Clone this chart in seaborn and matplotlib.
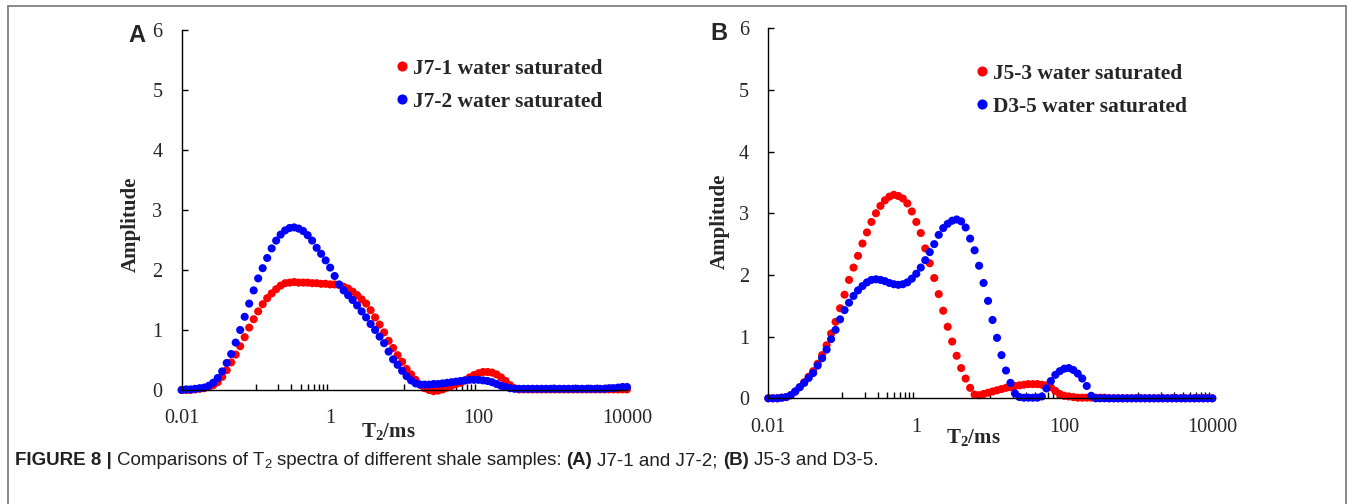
import numpy as np
import pandas as pd
import matplotlib
matplotlib.use("Agg")
import matplotlib.pyplot as plt
import seaborn as sns
from matplotlib.ticker import FixedLocator, NullFormatter
from matplotlib.lines import Line2D

sns.set_style("white")
plt.rcParams["font.family"] = ["Liberation Serif", "DejaVu Serif"]
plt.rcParams["mathtext.fontset"] = "custom"
plt.rcParams["mathtext.rm"] = "Liberation Serif"
plt.rcParams["mathtext.bf"] = "Liberation Serif:bold"
plt.rcParams["mathtext.it"] = "Liberation Serif:italic"

# ---- data (T2 grid of the NMR inversion, 100 points from 0.01 to 10000 ms) ----
T2 = np.logspace(-2, 4, 100)

J7_1 = [0.00, 0.00, 0.00, 0.01, 0.02, 0.03, 0.05, 0.08, 0.13, 0.22,
        0.33, 0.46, 0.59, 0.73, 0.88, 1.04, 1.18, 1.31, 1.43, 1.53,
        1.61, 1.68, 1.74, 1.78, 1.79, 1.80, 1.79, 1.79, 1.79, 1.78,
        1.78, 1.77, 1.77, 1.76, 1.76, 1.75, 1.72, 1.69, 1.64, 1.58,
        1.51, 1.44, 1.33, 1.21, 1.09, 0.96, 0.82, 0.70, 0.58, 0.47,
        0.35, 0.26, 0.17, 0.09, 0.03, 0.00, -0.02, -0.01, 0.01, 0.04,
        0.07, 0.10, 0.12, 0.16, 0.21, 0.25, 0.28, 0.30, 0.30, 0.29,
        0.26, 0.21, 0.15, 0.08, 0.03, 0.01, 0.01, 0.01, 0.01, 0.01,
        0.01, 0.01, 0.01, 0.01, 0.01, 0.01, 0.01, 0.01, 0.01, 0.01,
        0.01, 0.01, 0.01, 0.01, 0.01, 0.01, 0.01, 0.01, 0.01, 0.01]

J7_2 = [0.00, 0.01, 0.01, 0.02, 0.03, 0.04, 0.07, 0.12, 0.20, 0.31,
        0.45, 0.60, 0.79, 1.00, 1.22, 1.44, 1.66, 1.86, 2.03, 2.20,
        2.36, 2.49, 2.59, 2.66, 2.70, 2.71, 2.69, 2.65, 2.58, 2.49,
        2.37, 2.27, 2.16, 2.04, 1.90, 1.76, 1.66, 1.58, 1.50, 1.41,
        1.31, 1.21, 1.10, 1.00, 0.89, 0.78, 0.64, 0.51, 0.42, 0.32,
        0.23, 0.16, 0.11, 0.09, 0.09, 0.09, 0.10, 0.10, 0.11, 0.12,
        0.13, 0.14, 0.15, 0.16, 0.17, 0.17, 0.17, 0.16, 0.15, 0.13,
        0.10, 0.07, 0.05, 0.03, 0.02, 0.02, 0.02, 0.02, 0.02, 0.02,
        0.02, 0.02, 0.02, 0.02, 0.02, 0.02, 0.02, 0.02, 0.02, 0.02,
        0.02, 0.02, 0.02, 0.02, 0.02, 0.03, 0.03, 0.04, 0.05, 0.05]

J5_3 = [0.00, 0.00, 0.00, 0.01, 0.02, 0.05, 0.11, 0.18, 0.26, 0.35,
        0.44, 0.56, 0.70, 0.86, 1.05, 1.24, 1.46, 1.68, 1.92, 2.12,
        2.31, 2.51, 2.69, 2.86, 3.00, 3.12, 3.21, 3.27, 3.30, 3.28,
        3.24, 3.16, 3.03, 2.86, 2.68, 2.43, 2.19, 1.95, 1.69, 1.42,
        1.16, 0.92, 0.69, 0.49, 0.32, 0.17, 0.06, 0.05, 0.07, 0.09,
        0.11, 0.13, 0.15, 0.17, 0.18, 0.20, 0.21, 0.22, 0.23, 0.23,
        0.23, 0.22, 0.21, 0.18, 0.12, 0.07, 0.04, 0.03, 0.02, 0.01,
        0.01, 0.01, 0.01, 0.01, 0.01, 0.01, 0.00, 0.00, 0.00, 0.00,
        0.00, 0.00, 0.00, 0.00, 0.00, 0.00, 0.00, 0.00, 0.00, 0.00,
        0.00, 0.00, 0.00, 0.00, 0.00, 0.00, 0.00, 0.00, 0.00, 0.00]

D3_5 = [0.00, 0.00, 0.00, 0.01, 0.02, 0.05, 0.11, 0.18, 0.25, 0.33,
        0.41, 0.53, 0.65, 0.79, 0.96, 1.11, 1.28, 1.43, 1.55, 1.66,
        1.75, 1.82, 1.88, 1.92, 1.93, 1.92, 1.90, 1.87, 1.85, 1.84,
        1.85, 1.88, 1.94, 2.02, 2.12, 2.24, 2.37, 2.50, 2.65, 2.76,
        2.83, 2.88, 2.90, 2.87, 2.77, 2.59, 2.40, 2.15, 1.87, 1.58,
        1.27, 0.98, 0.70, 0.45, 0.25, 0.08, 0.02, 0.01, 0.01, 0.01,
        0.01, 0.03, 0.16, 0.28, 0.38, 0.44, 0.48, 0.49, 0.46, 0.40,
        0.32, 0.20, 0.04, 0.00, 0.00, 0.00, 0.00, 0.00, 0.00, 0.00,
        0.00, 0.00, 0.00, 0.00, 0.00, 0.00, 0.00, 0.00, 0.00, 0.00,
        0.00, 0.00, 0.00, 0.00, 0.00, 0.00, 0.00, 0.00, 0.00, 0.00]

panel_A_names = ["J7-1 water saturated", "J7-2 water saturated"]
panel_B_names = ["J5-3 water saturated", "D3-5 water saturated"]
x_ticks = [0.01, 1, 100, 10000]
x_ticklabels = ["0.01", "1", "100", "10000"]
y_ticks = [0, 1, 2, 3, 4, 5, 6]
colors = ["#ff0000", "#0000ff"]

W, H = 1354, 504
fig = plt.figure(figsize=(W / 100, H / 100), dpi=100)


def fx(px):
    return px / W


def fy(py):
    return 1 - py / H


axA = fig.add_axes([fx(181.7), fy(390), fx(445.3), 360 / H])
axB = fig.add_axes([fx(768.3), fy(398.3), fx(444), 370 / H])

minor_vals = [k * 10.0 ** e for e in (-1, 1, 3) for k in range(1, 10)]


def draw(ax, names, series, leg_xy):
    df = pd.concat([pd.DataFrame({"T2": T2, "Amplitude": s, "Sample": n})
                    for n, s in zip(names, series)], ignore_index=True)
    sns.scatterplot(data=df, x="T2", y="Amplitude", hue="Sample",
                    palette=colors, s=34, linewidth=0, ax=ax)
    for c in ax.collections:
        c.set_clip_on(False)
    ax.set_xscale("log")
    ax.set_xlim(0.01, 10000)
    ax.set_ylim(0, 6)
    ax.set_xticks(x_ticks)
    ax.set_xticklabels(x_ticklabels)
    ax.xaxis.set_minor_locator(FixedLocator(minor_vals))
    ax.xaxis.set_minor_formatter(NullFormatter())
    ax.set_yticks(y_ticks)
    ax.tick_params(axis="x", which="major", bottom=True, length=0, pad=14,
                   labelsize=14.5)
    ax.tick_params(axis="x", which="minor", bottom=True, direction="in",
                   length=4, width=1, color="black")
    ax.tick_params(axis="y", which="major", left=True, direction="in",
                   length=4.5, width=1, color="black", pad=14, labelsize=14.5)
    for sp in ("top", "right"):
        ax.spines[sp].set_visible(False)
    for sp in ("left", "bottom"):
        ax.spines[sp].set_color("black")
        ax.spines[sp].set_linewidth(1.0)
    ax.set_xlabel("")
    ax.set_ylabel("")
    sns.move_legend(ax, loc="upper left", bbox_to_anchor=leg_xy,
                    bbox_transform=fig.transFigure, frameon=False, title=None,
                    prop={"weight": "bold", "size": 15.5}, handlelength=0.5,
                    handletextpad=0.24, labelspacing=0.62, borderpad=0,
                    borderaxespad=0, markerscale=1.25)


draw(axA, panel_A_names, [J7_1, J7_2], (fx(396.6), fy(58.5)))
draw(axB, panel_B_names, [J5_3, D3_5], (fx(976.6), fy(63.5)))

lab = dict(fontsize=15, fontweight="bold", ha="center", va="center")
fig.text(fx(131), fy(224), "Amplitude", rotation=90, **lab)
fig.text(fx(720), fy(221), "Amplitude", rotation=90, **lab)
fig.text(fx(388), fy(431), r"$\mathbf{T_2}$/ms", **lab)
fig.text(fx(973), fy(437), r"$\mathbf{T_2}$/ms", **lab)

pl = dict(fontsize=17, fontweight="bold", ha="center", va="center",
          family=["Liberation Sans", "DejaVu Sans"])
fig.text(fx(137), fy(36), "A", **pl)
fig.text(fx(719), fy(33), "B", **pl)

# frame lines
bc = "#808080"
fig.add_artist(Line2D([fx(8), fx(8)], [0, fy(6)], color=bc, lw=1.3))
fig.add_artist(Line2D([fx(8), fx(1346)], [fy(6), fy(6)], color=bc, lw=1.3))
fig.add_artist(Line2D([fx(1346), fx(1346)], [0, fy(6)], color=bc, lw=1.3))

# caption built from pieces
cap_size = 13.5
parts = [("FIGURE 8 |", "bold", False, True),
         ("Comparisons of T", "normal", False, False),
         ("2", "normal", True, True),
         ("spectra of different shale samples:", "normal", False, True),
         ("(A)", "bold", False, True),
         ("J7-1 and J7-2;", "normal", False, True),
         ("(B)", "bold", False, True),
         ("J5-3 and D3-5.", "normal", False, False)]
renderer = fig.canvas.get_renderer()
xpix = 15.0
base_y = 465.0
space_px = 0.278 * cap_size * 100 / 72
for txt, wt, sub, gap in parts:
    size = cap_size * 0.7 if sub else cap_size
    yy = base_y + (3.5 if sub else 0)
    t = fig.text(fx(xpix), fy(yy), txt, fontsize=size, fontweight=wt,
                 family=["Liberation Sans", "DejaVu Sans"], ha="left",
                 va="baseline", color="#231f20")
    bb = t.get_window_extent(renderer)
    xpix += bb.width + (space_px if gap else 0)

fig.savefig("out.png", dpi=100)
